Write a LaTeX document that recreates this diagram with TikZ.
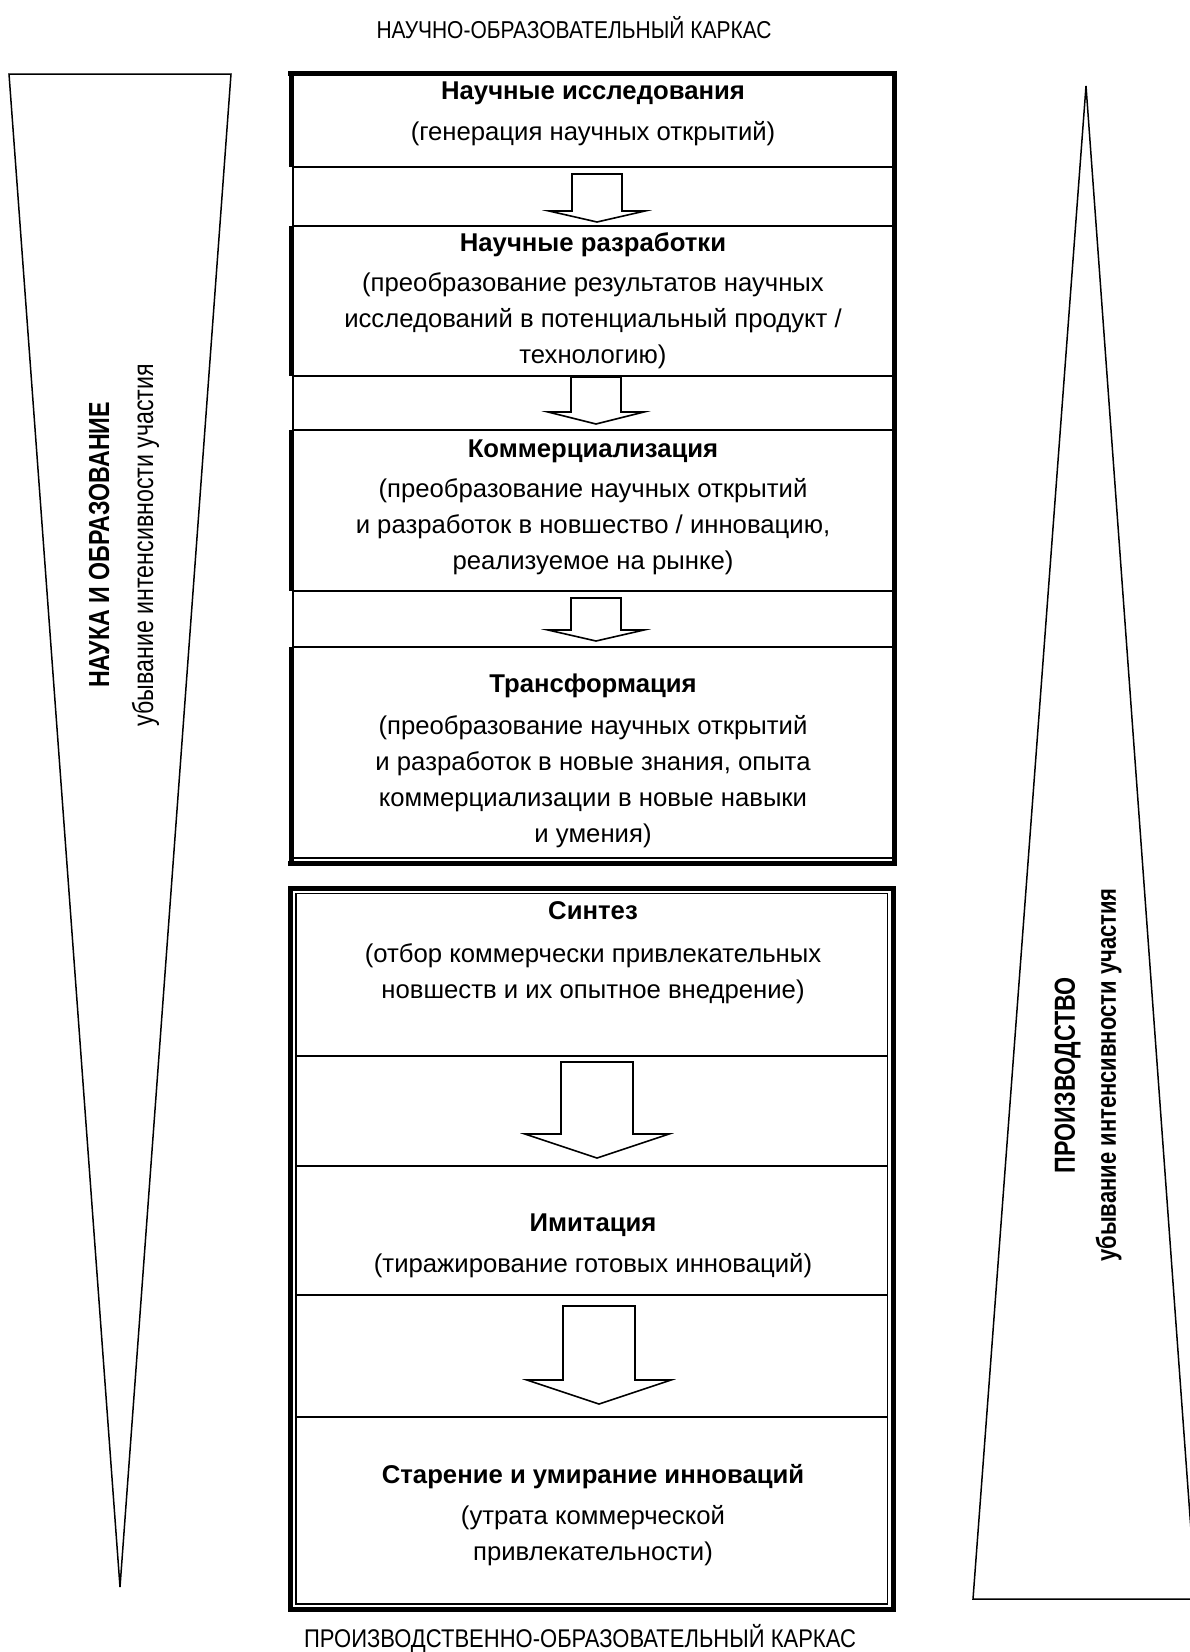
\documentclass[tikz,border=0pt]{standalone}
\usepackage{fontspec}
\setmainfont{Liberation Sans}
\newfontfamily\narrowsans[FakeStretch=0.8]{Liberation Sans}
\newfontfamily\capsans[FakeStretch=0.86]{Liberation Sans}
\usetikzlibrary{positioning}
\tikzset{thinline/.style={line width=1.3pt}, frameline/.style={line width=5pt}}
\tikzset{wedge/.style={line width=1.5pt, line join=miter}, blockarr/.style={line width=1.6pt, line join=miter, fill=white}}
\tikzset{celltext/.style={align=center, inner sep=0pt, font=\fontsize{25.7}{36}\selectfont},
  sidetext/.style={align=center, inner sep=0pt, rotate=90, font=\narrowsans\fontsize{29}{44}\selectfont},
  caption/.style={inner sep=0pt, font=\capsans\fontsize{24.4}{28}\selectfont}}
% block arrow pointing down: x, shaft top, head base, tip, half shaft, half head
\newcommand{\downblk}[6]{\draw[blockarr] (#1-#5,#2) -- (#1+#5,#2) -- (#1+#5,#3) -- (#1+#6,#3) -- (#1,#4) -- (#1-#6,#3) -- (#1-#5,#3) -- cycle;}

\begin{document}
\begin{tikzpicture}[x=1pt,y=-1pt]
  \useasboundingbox (0,0) rectangle (1190,1652);

  % wedges
  \draw[wedge] (9,74) -- (231,74) -- (120,1587) -- cycle;
  \draw[wedge] (1086,86) -- (1196,1599) -- (973,1599) -- cycle;

  % upper frame
  \draw[thinline] (293,73) rectangle (894,858);
  \foreach \y in {167,226,376,430,591,647}
    \draw[thinline] (293,\y) -- (894,\y);
  \draw[frameline] (288,73) -- (896.5,73);
  \draw[frameline] (894,70.5) -- (894,865.5);
  \draw[frameline] (288,863) -- (896.5,863);
  \foreach \a/\b in {73/167,226/376,430/591,647/863}
    \draw[frameline] (291,\a) -- (291,\b);

  % lower frame
  \draw[frameline] (290.5,888) rectangle (893,1609);
  \draw[thinline] (296,893.5) rectangle (887.5,1604);
  \foreach \y in {1056,1166,1295,1417}
    \draw[thinline] (296,\y) -- (887.5,\y);

  % arrows
  \downblk{597}{174}{211}{222}{25}{48}
  \downblk{596}{377}{412}{424}{25}{48}
  \downblk{596}{598}{630}{641}{25}{48}
  \downblk{597}{1062}{1134}{1158}{36}{72}
  \downblk{599}{1306}{1380}{1404}{36}{72}

  % cells
  \node[celltext] (res) at (593,114) {\textbf{Научные исследования}\\[5pt](генерация научных открытий)};
  \node[celltext] (dev) at (593,301) {\textbf{Научные разработки}\\[4pt](преобразование результатов научных\\исследований в потенциальный продукт /\\технологию)};
  \node[celltext] (com) at (593,507) {\textbf{Коммерциализация}\\[4pt](преобразование научных открытий\\и разработок в новшество / инновацию,\\реализуемое на рынке)};
  \node[celltext] (trans) at (593,761) {\textbf{Трансформация}\\[6pt](преобразование научных открытий\\и разработок в новые знания, опыта\\коммерциализации в новые навыки\\и умения)};
  \node[celltext] (synth) at (593,953) {\textbf{Синтез}\\[7pt](отбор коммерчески привлекательных\\новшеств и их опытное внедрение)};
  \node[celltext] (imit) at (593,1246) {\textbf{Имитация}\\[5pt](тиражирование готовых инноваций)};
  \node[celltext] (aging) at (593,1515) {\textbf{Старение и умирание инноваций}\\[5pt](утрата коммерческой\\привлекательности)};

  % side labels
  \node[sidetext] (sci) at (124,545) {\textbf{НАУКА И ОБРАЗОВАНИЕ}\\убывание интенсивности участия};
  \node[sidetext] (prod) at (1088,1075) {\textbf{ПРОИЗВОДСТВО}\\[-3pt]{\fontsize{27.5}{40}\selectfont\textbf{убывание интенсивности участия}}};

  % captions
  \node[caption] (toptitle) at (574,28) {НАУЧНО-ОБРАЗОВАТЕЛЬНЫЙ КАРКАС};
  \node[caption, font=\capsans\fontsize{25.6}{29}\selectfont] (bottitle) at (580,1638) {ПРОИЗВОДСТВЕННО-ОБРАЗОВАТЕЛЬНЫЙ КАРКАС};
\end{tikzpicture}
\end{document}
